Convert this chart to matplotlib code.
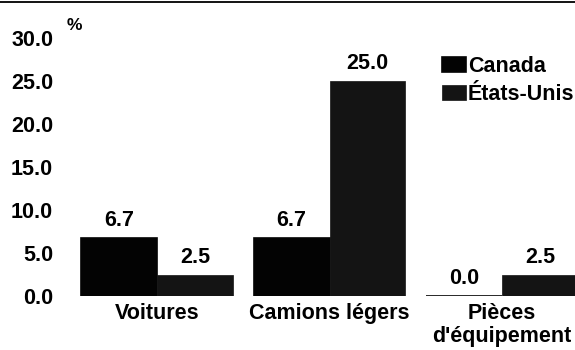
import matplotlib
matplotlib.use("Agg")
import matplotlib.pyplot as plt
from matplotlib.lines import Line2D
import numpy as np

categories = ["Voitures", "Camions légers", "Pièces\nd'équipement"]
canada = [6.7, 6.7, 0.0]
etats_unis = [2.5, 25.0, 2.5]
value_labels_canada = ["6.7", "6.7", "0.0"]
value_labels_us = ["2.5", "25.0", "2.5"]
y_ticks = [0, 5, 10, 15, 20, 25, 30]

plt.rcParams["font.family"] = ["Liberation Sans", "DejaVu Sans"]
plt.rcParams["font.weight"] = "bold"

dpi = 100
fig = plt.figure(figsize=(575 / dpi, 350 / dpi), dpi=dpi)
ax = fig.add_axes([60 / 575, 54 / 350, 515 / 575, 258 / 350])

x = np.arange(len(categories))
w = 0.44
b1 = ax.bar(x - w / 2, canada, w, color="#030303", edgecolor="#030303",
            linewidth=1.2, label="Canada")
b2 = ax.bar(x + w / 2, etats_unis, w, color="#141414", edgecolor="#141414",
            linewidth=0.5, label="États-Unis")

for rect, txt in zip(b1, value_labels_canada):
    ax.annotate(txt, (rect.get_x() + rect.get_width() / 2, rect.get_height()),
                xytext=(0, 5), textcoords="offset points",
                ha="center", va="bottom", fontsize=15.5, fontweight="bold")
for rect, txt in zip(b2, value_labels_us):
    ax.annotate(txt, (rect.get_x() + rect.get_width() / 2, rect.get_height()),
                xytext=(0, 5), textcoords="offset points",
                ha="center", va="bottom", fontsize=15.5, fontweight="bold")

ax.set_xlim((60 - 157) / 172.5, (575 - 157) / 172.5)
ax.set_ylim(0, 30)
ax.set_yticks(y_ticks, [f"{v:.1f}" for v in y_ticks])
ax.set_xticks(x, categories)
ax.tick_params(axis="both", length=0, labelsize=15.5)
ax.tick_params(axis="y", pad=5)
ax.tick_params(axis="x", pad=5)
for lab in ax.get_xticklabels():
    lab.set_fontweight("bold")
    lab.set_linespacing(1.15)
for lab in ax.get_yticklabels():
    lab.set_fontweight("bold")
for s in ax.spines.values():
    s.set_visible(False)

ax.legend(loc="upper left", bbox_to_anchor=(442 / 575, 1 - 56 / 350),
          bbox_transform=fig.transFigure, frameon=False, fontsize=15.5,
          handlelength=1.1, handleheight=0.7, handletextpad=0.1,
          labelspacing=0.32, borderaxespad=0, borderpad=0)

fig.text(67 / 575, 1 - 25 / 350, "%", fontsize=12.5, fontweight="bold",
         va="center", ha="left")
fig.add_artist(Line2D([0, 1], [1 - 1.5 / 350, 1 - 1.5 / 350],
                      transform=fig.transFigure, color="black", linewidth=1.3))

fig.savefig("out.png", dpi=dpi)
